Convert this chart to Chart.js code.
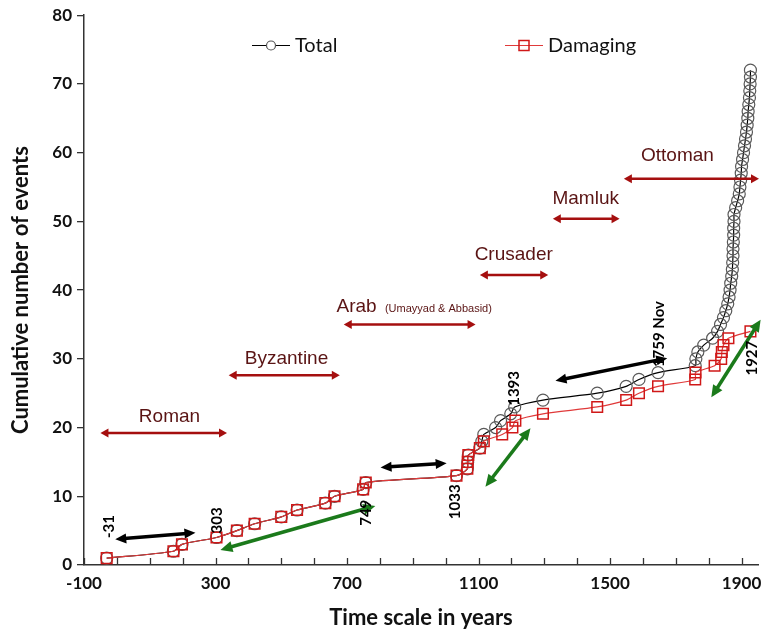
<!DOCTYPE html>
<html>
<head>
<meta charset="utf-8">
<script src="https://cdn.jsdelivr.net/npm/chart.js@4.4.0/dist/chart.umd.min.js"></script>
<style>
  body { margin: 0; background: #fff; }
  #wrap { width: 772px; height: 632px; }
</style>
</head>
<body>
<div id="wrap"><canvas id="chart"></canvas></div>
<script>
// cumulative counts
const totalYears = [-31, 172, 198, 303, 365, 419, 500, 548, 634, 662, 749, 757,
  1033, 1066, 1067, 1069, 1104, 1110, 1116, 1152, 1167, 1198, 1210, 1296, 1461, 1549, 1588, 1646,
  1759, 1761, 1767, 1785, 1812, 1827, 1836, 1845, 1852, 1858, 1862, 1865, 1867, 1870,
  1872, 1873, 1874, 1874, 1875, 1876, 1876, 1877, 1877, 1882, 1888, 1893, 1895, 1897,
  1899, 1900, 1903, 1906, 1909, 1912, 1915, 1917, 1919, 1920, 1922, 1924, 1925, 1926, 1927, 1927];
const totalCounts = [1, 2, 3, 4, 5, 6, 7, 8, 9, 10, 11, 12,
  13, 14, 15, 16, 17, 18, 19, 20, 21, 22, 23, 24, 25, 26, 27, 28,
  29, 30, 31, 32, 33, 34, 35, 36, 37, 38, 39, 40, 41, 42,
  43, 44, 45, 46, 47, 48, 49, 50, 51, 52, 53, 54, 55, 56,
  57, 58, 59, 60, 61, 62, 63, 64, 65, 66, 67, 68, 69, 70, 71, 72];

const damagingYears = [-31, 172, 198, 303, 365, 419, 500, 548, 634, 662, 749, 757,
  1033, 1066, 1067, 1069, 1104, 1116, 1172, 1203, 1212, 1296, 1461, 1549, 1588, 1646,
  1759, 1760, 1818, 1838, 1840, 1845, 1860, 1927];
const damagingCounts = [1, 2, 3, 4, 5, 6, 7, 8, 9, 10, 11, 12,
  13, 14, 15, 16, 17, 18, 19, 20, 21, 22, 23, 24, 25, 26,
  27, 28, 29, 30, 31, 32, 33, 34];

const xTickValues = [-100, 0, 100, 200, 300, 400, 500, 600, 700, 800, 900, 1000,
  1100, 1200, 1300, 1400, 1500, 1600, 1700, 1800, 1900];
const xTickLabels = [-100, 300, 700, 1100, 1500, 1900];

// periods: [label, start, end, arrow level, label x, label y]
const periods = [
  ["Roman", -50, 335, 19.2, 160, 21.6],
  ["Byzantine", 340, 678, 27.6, 516, 30.0],
  ["Arab", 690, 1091, 35.0, 668, 37.6],
  ["Crusader", 1104, 1312, 42.2, 1207, 45.1],
  ["Mamluk", 1326, 1529, 50.4, 1426, 53.3],
  ["Ottoman", 1542, 1953, 56.2, 1705, 59.5]
];
const blackArrows = [
  [-5, 3.74, 239, 4.7],
  [802, 14.2, 1003, 14.8],
  [1334, 26.8, 1674, 30.1]
];
const greenArrows = [
  [315, 2.2, 786, 8.6],
  [1121, 11.4, 1258, 19.9],
  [1808, 24.4, 1958, 35.7]
];
const yearNotes = [
  ["-31", -25, 5.6],
  ["303", 305, 6.5],
  ["749", 759, 7.6],
  ["1033", 1030, 9.2],
  ["1393", 1207, 25.7],
  ["1759 Nov", 1648, 33.6],
  ["1927", 1933, 30.1]
];

function drawArrow(ctx, x1, y1, x2, y2, color, width, head, headW) {
  const ang = Math.atan2(y2 - y1, x2 - x1);
  const cos = Math.cos(ang), sin = Math.sin(ang);
  ctx.save();
  ctx.strokeStyle = color;
  ctx.fillStyle = color;
  ctx.lineWidth = width;
  ctx.beginPath();
  ctx.moveTo(x1 + cos * head * 0.8, y1 + sin * head * 0.8);
  ctx.lineTo(x2 - cos * head * 0.8, y2 - sin * head * 0.8);
  ctx.stroke();
  [[x2, y2, 1], [x1, y1, -1]].forEach(([px, py, d]) => {
    const bx = px - d * cos * head, by = py - d * sin * head;
    ctx.beginPath();
    ctx.moveTo(px, py);
    ctx.lineTo(bx - sin * headW, by + cos * headW);
    ctx.lineTo(bx + sin * headW, by - cos * headW);
    ctx.closePath();
    ctx.fill();
  });
  ctx.restore();
}

const overlayPlugin = {
  id: "overlay",
  afterDraw(chart) {
    const ctx = chart.ctx;
    const xs = chart.scales.x, ys = chart.scales.y;
    const area = chart.chartArea;

    // inward x ticks
    ctx.save();
    ctx.strokeStyle = "#333";
    ctx.lineWidth = 1.3;
    xTickValues.forEach(v => {
      const px = Math.round(xs.getPixelForValue(v)) + 0.5;
      ctx.beginPath();
      ctx.moveTo(px, area.bottom);
      ctx.lineTo(px, area.bottom - 7);
      ctx.stroke();
    });
    ctx.restore();

    // periods
    periods.forEach(p => {
      const y = ys.getPixelForValue(p[3]);
      drawArrow(ctx, xs.getPixelForValue(p[1]), y, xs.getPixelForValue(p[2]), y, "#a50f0f", 2.5, 8, 4.5);
      ctx.save();
      ctx.fillStyle = "#5a1414";
      ctx.textBaseline = "middle";
      if (p[0] === "Arab") {
        ctx.textAlign = "left";
        ctx.font = "19px 'Liberation Sans', Arial, sans-serif";
        const lx = xs.getPixelForValue(p[4]);
        const ly = ys.getPixelForValue(p[5]);
        ctx.fillText("Arab", lx, ly);
        const w = ctx.measureText("Arab ").width;
        ctx.font = "11px 'Liberation Sans', Arial, sans-serif";
        ctx.fillText("(Umayyad & Abbasid)", lx + w + 3, ly + 2);
      } else {
        ctx.textAlign = "center";
        ctx.font = "19px 'Liberation Sans', Arial, sans-serif";
        ctx.fillText(p[0], xs.getPixelForValue(p[4]), ys.getPixelForValue(p[5]));
      }
      ctx.restore();
    });

    blackArrows.forEach(a => drawArrow(ctx, xs.getPixelForValue(a[0]), ys.getPixelForValue(a[1]),
      xs.getPixelForValue(a[2]), ys.getPixelForValue(a[3]), "#000", 3.5, 11, 5));
    greenArrows.forEach(a => drawArrow(ctx, xs.getPixelForValue(a[0]), ys.getPixelForValue(a[1]),
      xs.getPixelForValue(a[2]), ys.getPixelForValue(a[3]), "#1b7a1b", 3.5, 12, 5.5));

    // rotated year notes
    yearNotes.forEach(n => {
      ctx.save();
      ctx.translate(xs.getPixelForValue(n[1]), ys.getPixelForValue(n[2]));
      ctx.rotate(-Math.PI / 2);
      ctx.fillStyle = "#000";
      ctx.font = "bold 15px Lato, sans-serif";
      ctx.textAlign = "center";
      ctx.textBaseline = "middle";
      ctx.fillText(n[0], 0, 0);
      ctx.restore();
    });

    // legend
    ctx.save();
    ctx.lineWidth = 1.2;
    ctx.strokeStyle = "#000";
    ctx.beginPath(); ctx.moveTo(252, 45.5); ctx.lineTo(290, 45.5); ctx.stroke();
    ctx.strokeStyle = "#555";
    ctx.fillStyle = "#fff";
    ctx.beginPath(); ctx.arc(271, 45.5, 4.5, 0, Math.PI * 2); ctx.fill(); ctx.stroke();
    ctx.strokeStyle = "#e03a3a";
    ctx.beginPath(); ctx.moveTo(505, 45.5); ctx.lineTo(543, 45.5); ctx.stroke();
    ctx.strokeStyle = "#d01818";
    ctx.lineWidth = 1.5;
    ctx.strokeRect(519, 40.5, 10, 10);
    ctx.fillStyle = "#111";
    ctx.font = "20px Lato, sans-serif";
    ctx.textBaseline = "middle";
    ctx.textAlign = "left";
    ctx.fillText("Total", 295, 46);
    ctx.fillText("Damaging", 548, 46);
    ctx.restore();
  }
};

const tickFont = { family: "Lato, sans-serif", size: 17, weight: "bold" };
const titleFont = { family: "Lato, sans-serif", size: 22, weight: "bold" };

new Chart(document.getElementById("chart"), {
  type: "line",
  data: {
    datasets: [
      {
        label: "Damaging",
        data: damagingYears.map((y, i) => ({ x: y, y: damagingCounts[i] })),
        borderColor: "#e03a3a",
        borderWidth: 1.2,
        pointStyle: "rect",
        pointRadius: 7.5,
        pointBorderColor: "#d01818",
        pointBorderWidth: 1.5,
        pointBackgroundColor: "rgba(0,0,0,0)",
        tension: 0.25,
        order: 1
      },
      {
        label: "Total",
        data: totalYears.map((y, i) => ({ x: y, y: totalCounts[i] })),
        borderColor: "#000",
        borderWidth: 1.2,
        pointStyle: "circle",
        pointRadius: 6,
        pointBorderColor: "#5a5a5a",
        pointBorderWidth: 1.2,
        pointBackgroundColor: "rgba(0,0,0,0)",
        tension: 0.25,
        order: 2
      }
    ]
  },
  options: {
    responsive: true,
    maintainAspectRatio: false,
    animation: false,
    layout: { padding: { top: 15, right: 14, left: 0, bottom: 0 } },
    plugins: { legend: { display: false }, tooltip: { enabled: false } },
    scales: {
      x: {
        type: "linear",
        min: -100,
        max: 1950,
        afterBuildTicks: s => { s.ticks = xTickValues.map(v => ({ value: v })); },
        afterFit: s => { s.height = 67; },
        ticks: {
          autoSkip: false,
          maxRotation: 0,
          padding: 8,
          color: "#111",
          font: tickFont,
          callback: v => xTickLabels.includes(v) ? String(v) : ""
        },
        grid: { drawOnChartArea: false, drawTicks: false },
        border: { color: "#333", width: 1.5 },
        title: { display: true, text: "Time scale in years", color: "#111", font: titleFont, padding: { top: 0, bottom: 1 } }
      },
      y: {
        min: 0,
        max: 80,
        afterFit: s => { s.width = 84; },
        ticks: { stepSize: 10, padding: 5, color: "#111", font: tickFont },
        grid: { drawOnChartArea: false, tickLength: 7, color: "#333", lineWidth: 1.3 },
        border: { color: "#333", width: 1.5 },
        title: { display: true, text: "Cumulative number of events", color: "#111", font: titleFont, padding: { top: 8, bottom: 0 } }
      }
    }
  },
  plugins: [overlayPlugin]
});
</script>
</body>
</html>
